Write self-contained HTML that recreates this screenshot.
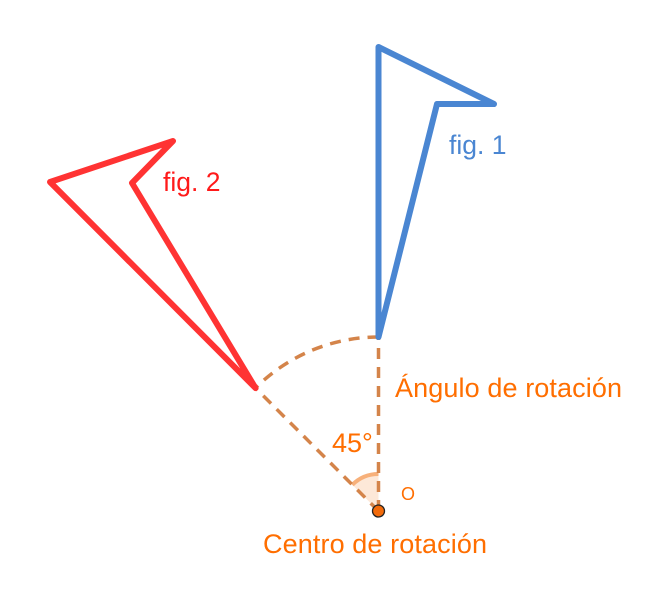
<!DOCTYPE html>
<html><head><style>html,body{margin:0;padding:0;background:#fff;}svg{display:block}</style></head>
<body>
<svg width="654" height="609" viewBox="0 0 654 609" xmlns="http://www.w3.org/2000/svg" font-family="Liberation Sans, sans-serif">
<path d="M378.5,511 L378.5,474 A37,37 0 0 0 352.3,484.8 Z" fill="#fde8d8" stroke="none"/>
<path d="M378.5,474 A37,37 0 0 0 352.3,484.8" fill="none" stroke="#f7b07a" stroke-width="4"/>
<g stroke="#d4844a" stroke-width="3.5" stroke-dasharray="11,8" fill="none">
<line x1="378.5" y1="511" x2="378.5" y2="337"/>
<line x1="378.5" y1="511" x2="255.5" y2="388"/>
<path d="M378.5,337 A174,174 0 0 0 255.5,388"/>
</g>
<polygon points="378.5,337 378.5,47 494,104 437,104" fill="none" stroke="#4a86d2" stroke-width="6" stroke-linejoin="round"/>
<polygon points="255.5,388 50,182 173,141 132,183" fill="none" stroke="#ff3333" stroke-width="6" stroke-linejoin="round"/>
<circle cx="378.5" cy="511" r="6" fill="#f26a0a" stroke="#222" stroke-width="1.3"/>
<g fill="#ff6e00" font-size="27">
<text x="395" y="397" textLength="227">Ángulo de rotación</text>
<text x="263" y="553" textLength="224">Centro de rotación</text>
<text x="332" y="452">45°</text>
<text x="401" y="500" font-size="18">O</text>
</g>
<text x="449" y="154" font-size="26.5" fill="#4a86d2">fig. 1</text>
<text x="163" y="191" font-size="26.5" fill="#ff1a1a">fig. 2</text>
</svg>
</body></html>
